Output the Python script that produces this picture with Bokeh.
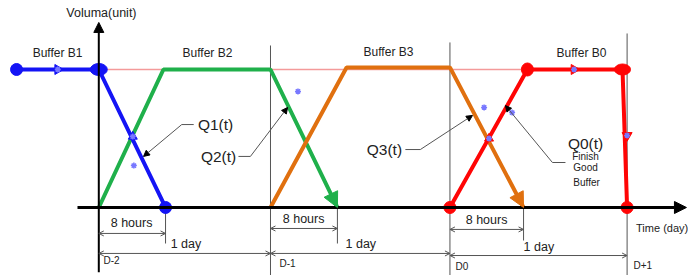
from bokeh.plotting import figure
from bokeh.models import Range1d, Label, Arrow, NormalHead, OpenHead
from bokeh.embed import file_html
from bokeh.resources import INLINE

# ---- data (x in days from D-2, y in buffer volume units) ----
day_labels = ["D-2", "D-1", "D0", "D+1"]
day_x = [0.0, 0.975, 1.994, 3.0]
shift_end = [0.379, 1.355, 2.412]          # end of the 8-hour window of each day
full_level = 1.0

b1_x = [-0.467, 0.0, 0.379]
b1_y = [1.0, 1.0, 0.0]
b2_x = [0.0, 0.367, 0.975, 1.355]
b2_y = [0.0, 1.0, 1.0, 0.0]
b3_x = [0.975, 1.407, 1.994, 2.412]
b3_y = [0.0, 1.015, 1.015, 0.0]
b0_x = [1.994, 2.434, 2.974, 3.0]
b0_y = [0.0, 1.0, 1.0, 0.0]

buffer_names = ["Buffer B1", "Buffer B2", "Buffer B3", "Buffer B0"]
q_names = ["Q1(t)", "Q2(t)", "Q3(t)", "Q0(t)"]

BLUE = "#1414f5"
GREEN = "#1fb04b"
ORANGE = "#e0700f"
RED = "#ff0505"
GREY = "#555555"
STAR = "#7878ff"
FONT = "Liberation Sans"

p = figure(width=688, height=275,
           x_range=Range1d(-0.5582, 3.3487), y_range=Range1d(-0.4928, 1.5),
           x_axis_type=None, y_axis_type=None,
           output_backend="svg", toolbar_location=None, min_border=0)
p.grid.visible = False
p.outline_line_color = None
p.background_fill_color = "white"

# full level reference line
p.line([day_x[0], day_x[3]], [full_level, full_level], line_color="#f49a9a", line_width=1.5)

# day boundary lines
p.segment(x0=day_x[1:], y0=[-0.5] * 3, x1=day_x[1:], y1=[1.174, 1.196, 1.261],
          line_color=GREY, line_width=1)
# 8-hour tick lines
p.segment(x0=shift_end, y0=[0, 0, 0], x1=shift_end, y1=[-0.261, -0.261, -0.239],
          line_color=GREY, line_width=1)

# axes
p.add_layout(Arrow(end=NormalHead(size=10, fill_color="black", line_color="black"),
                   x_start=0, y_start=-0.47, x_end=0, y_end=1.341,
                   line_color="black", line_width=2))
p.add_layout(Arrow(end=NormalHead(size=12, fill_color="black", line_color="black"),
                   x_start=-0.121, y_start=0, x_end=3.337, y_end=0,
                   line_color="black", line_width=3))

# dimension lines
dim8_y = [-0.188, -0.152, -0.159]
dimday_y = [-0.333, -0.333, -0.348]
for i in range(3):
    p.add_layout(Arrow(start=OpenHead(size=5, line_color=GREY, line_width=1),
                       end=OpenHead(size=5, line_color=GREY, line_width=1),
                       x_start=day_x[i], y_start=dim8_y[i], x_end=shift_end[i], y_end=dim8_y[i],
                       line_color=GREY, line_width=1))
    p.add_layout(Arrow(start=OpenHead(size=5, line_color=GREY, line_width=1),
                       end=OpenHead(size=5, line_color=GREY, line_width=1),
                       x_start=day_x[i], y_start=dimday_y[i], x_end=day_x[i + 1], y_end=dimday_y[i],
                       line_color=GREY, line_width=1))

# buffer curves
p.line(b2_x, b2_y, line_color=GREEN, line_width=4)
p.line(b3_x, b3_y, line_color=ORANGE, line_width=4)
p.line(b1_x, b1_y, line_color=BLUE, line_width=4)
p.line(b0_x, b0_y, line_color=RED, line_width=4)

# arrow heads at the end of B2 and B3
for xs, ys, c in [(b2_x, b2_y, GREEN), (b3_x, b3_y, ORANGE)]:
    xs0 = xs[2] + 0.8 * (xs[3] - xs[2])
    ys0 = ys[2] + 0.8 * (ys[3] - ys[2])
    p.add_layout(Arrow(end=NormalHead(size=15, fill_color=c, line_color=c),
                       x_start=xs0, y_start=ys0, x_end=xs[3], y_end=ys[3],
                       line_color=c, line_width=1))

# node markers
p.scatter([b1_x[0], b1_x[2]], [b1_y[0], b1_y[2]], size=12, color=BLUE)
p.ellipse([b1_x[1]], [b1_y[1]], width=17, height=12, width_units="screen",
          height_units="screen", color=BLUE)
p.scatter([b0_x[0], b0_x[3]], [b0_y[0], b0_y[3]], size=12, color=RED)
p.ellipse([b0_x[1], b0_x[2]], [b0_y[1], b0_y[2]], width=[12, 16], height=[13, 11],
          width_units="screen", height_units="screen", color=RED)

# flow-direction triangles
p.scatter([-0.233], [1.0], marker="triangle", angle=-1.5708, size=10, color=BLUE)
p.scatter([2.699], [1.0], marker="triangle", angle=-1.5708, size=10, color=RED)
p.scatter([3.0], [0.522], marker="inverted_triangle", size=10, color=RED)
p.scatter([0.193], [0.514], marker="triangle", size=9, color=BLUE)
p.scatter([2.216], [0.5], marker="triangle", size=9, color=RED)

# small asterisk markers
star_x = [-0.233, 2.699, 3.0, 0.193, 0.199, 1.131, 2.188, 2.347, 2.216]
star_y = [1.0, 1.0, 0.522, 0.514, 0.304, 0.841, 0.725, 0.688, 0.5]
p.scatter(star_x, star_y, marker="asterisk", size=6, line_color=STAR, line_width=1.5)

# leader lines
leaders = [
    ([0.539, 0.471, 0.254], [0.601, 0.601, 0.370]),
    ([0.793, 0.861, 1.072], [0.370, 0.370, 0.725]),
    ([1.741, 1.826, 2.122], [0.420, 0.420, 0.667]),
    ([2.650, 2.576, 2.309], [0.326, 0.326, 0.739]),
]
for lx, ly in leaders:
    p.line(lx[:2], ly[:2], line_color=GREY, line_width=1)
    p.add_layout(Arrow(end=NormalHead(size=6, fill_color="black", line_color="black"),
                       x_start=lx[1], y_start=ly[1], x_end=lx[2], y_end=ly[2],
                       line_color=GREY, line_width=1))


def label(x, y, text, size, align="center", color="#222222"):
    p.add_layout(Label(x=x, y=y, text=text, text_font=FONT, text_font_size=f"{size}px",
                       text_align=align, text_baseline="middle", text_color=color))


label(0.015, 1.406, "Voluma(unit)", 12.5)
for (bx, by), name in zip([(-0.234, 1.116), (0.617, 1.116), (1.645, 1.130), (2.741, 1.123)],
                          buffer_names):
    label(bx, by, name, 12)
for (qx, qy), name in zip([(0.663, 0.601), (0.680, 0.370), (1.622, 0.420), (2.764, 0.464)],
                          q_names):
    label(qx, qy, name, 15.5)
label(2.764, 0.370, "Finish", 10)
label(2.764, 0.290, "Good", 10)
label(2.770, 0.181, "Buffer", 10)

for hx, hy in [(0.186, -0.109), (1.163, -0.080), (2.202, -0.094)]:
    label(hx, hy, "8 hours", 12.5)
for dx, dy in [(0.408, -0.261), (1.401, -0.268), (2.412, -0.283)]:
    label(dx, dy, "1 day", 12.5, align="left")
for lx, ly, name in zip([0.027, 1.026, 2.026, 3.036], [-0.384, -0.406, -0.428, -0.420], day_labels):
    label(lx, ly, name, 10, align="left")
label(3.347, -0.145, "Time (day)", 11, align="right")

open("out.html", "w").write(file_html(p, INLINE))
